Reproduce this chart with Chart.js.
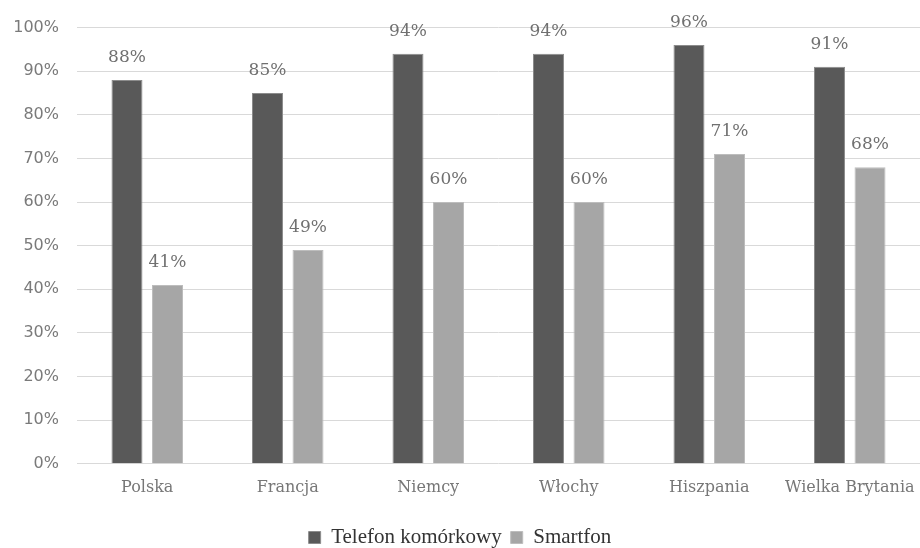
<!DOCTYPE html>
<html><head><meta charset="utf-8">
<script src="https://cdn.jsdelivr.net/npm/chart.js@4/dist/chart.umd.min.js"></script>
<style>html,body{margin:0;padding:0;background:#fff}#wrap{width:920px;height:548px}</style>
</head><body><div id="wrap"><canvas id="c" width="920" height="548"></canvas></div>
<script>
const categories = ['Polska','Francja','Niemcy','Włochy','Hiszpania','Wielka Brytania'];
const seriesNames = ['Telefon komórkowy','Smartfon'];
const telefon = [88,85,94,94,96,91];
const smartfon = [41,49,60,60,71,68];
const yTicks = [0,10,20,30,40,50,60,70,80,90,100];

const labelPlugin = {
  id:'barLabels',
  afterDatasetsDraw(chart){
    const ctx = chart.ctx;
    ctx.save();
    ctx.font = '17px "DejaVu Serif"';
    ctx.fillStyle = '#707070';
    ctx.textAlign = 'center';
    ctx.textBaseline = 'bottom';
    chart.data.datasets.forEach((ds,i)=>{
      chart.getDatasetMeta(i).data.forEach((bar,j)=>{
        ctx.fillText(ds.data[j]+'%', bar.x, bar.y - 14);
      });
    });
    ctx.restore();
  }
};

new Chart(document.getElementById('c'), {
  type:'bar',
  data:{
    labels: categories,
    datasets:[
      {label:seriesNames[0], data:telefon, backgroundColor:'#595959', borderColor:'#8c8c8c', borderWidth:1},
      {label:seriesNames[1], data:smartfon, backgroundColor:'#a6a6a6', borderColor:'#bdbdbd', borderWidth:1}
    ]
  },
  options:{
    responsive:false,
    animation:false,
    devicePixelRatio:1,
    layout:{padding:{top:18,right:0,left:0,bottom:-10}},
    datasets:{bar:{categoryPercentage:0.577, barPercentage:0.765}},
    plugins:{
      legend:{position:'bottom', labels:{font:{family:'"Liberation Serif"', size:21}, color:'#333', boxWidth:12, boxHeight:12, padding:9, useBorderRadius:false}},
      tooltip:{enabled:false}
    },
    scales:{
      x:{grid:{display:false}, border:{display:false},
         afterFit(s){ s.paddingLeft = 0; s.paddingRight = 0; s.height += 15; },
         ticks:{font:{family:'"DejaVu Serif"', size:16}, color:'#777', padding:6, maxRotation:0, autoSkip:false}},
      y:{min:0,max:100, border:{display:false},
         afterBuildTicks(s){ s.ticks = yTicks.map(v=>({value:v})); },
         afterFit(s){ s.width = 77; },
         grid:{color:'#d9d9d9', lineWidth:1, drawTicks:false},
         ticks:{callback:v=>v+'%', font:{family:'"DejaVu Sans"', size:16}, color:'#7a7a7a', padding:18}}
    }
  },
  plugins:[labelPlugin]
});
</script></body></html>
